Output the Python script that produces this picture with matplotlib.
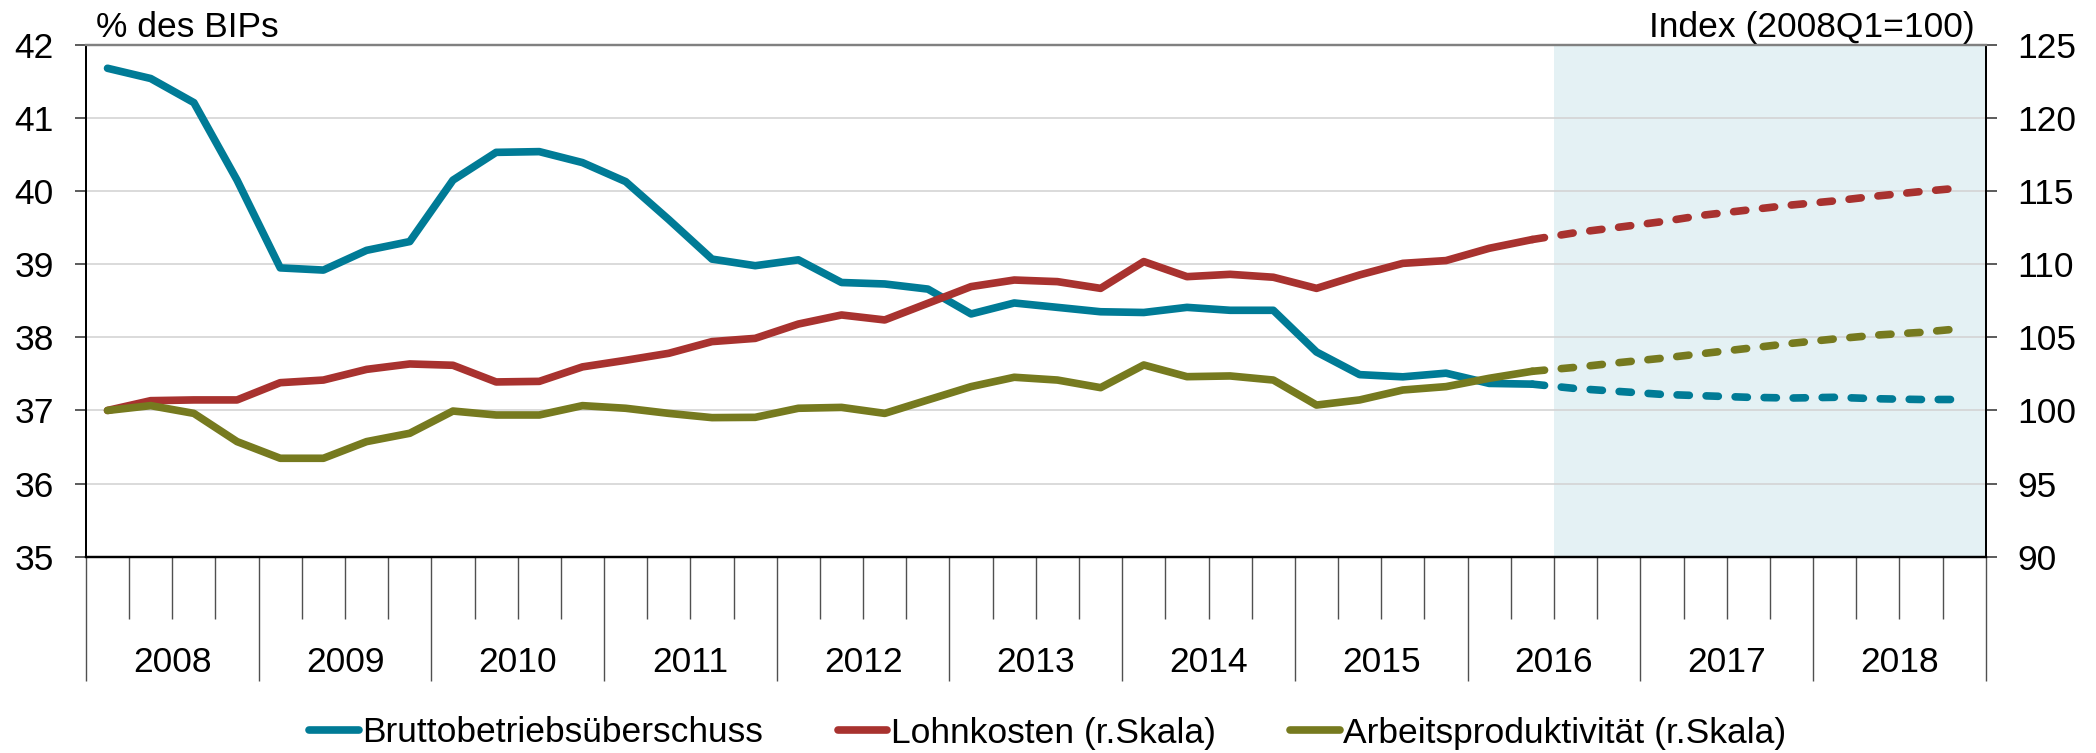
import numpy as np
import matplotlib
matplotlib.use("Agg")
import matplotlib.pyplot as plt
import matplotlib.transforms as mtransforms

plt.rcParams['font.family'] = ['Liberation Sans', 'DejaVu Sans']

# ------------------------------
# data (quarterly, 2008Q1 - 2018Q4)
# ------------------------------
years = ['2008', '2009', '2010', '2011', '2012', '2013',
         '2014', '2015', '2016', '2017', '2018']
n_forecast_start = 33   # last actual quarter index (2016Q2)

# % des BIPs (left axis)
brutto = [41.68, 41.54, 41.21, 40.15, 38.95, 38.92, 39.19, 39.31, 40.15, 40.53, 40.54, 40.39,
          40.13, 39.61, 39.07, 38.98, 39.06, 38.75, 38.73, 38.66, 38.32, 38.47, 38.41, 38.35,
          38.34, 38.41, 38.37, 38.37, 37.80, 37.49, 37.46, 37.51, 37.37, 37.36,
          37.30, 37.26, 37.22, 37.20, 37.18, 37.17, 37.18, 37.16, 37.15, 37.15]

# Index 2008Q1=100 (right axis)
lohn = [100.0, 100.67, 100.72, 100.72, 101.90, 102.08, 102.81, 103.18, 103.09, 101.95, 101.99, 102.98,
        103.43, 103.91, 104.71, 104.93, 105.91, 106.53, 106.19, 107.33, 108.47, 108.92, 108.81, 108.35,
        110.18, 109.15, 109.31, 109.11, 108.35, 109.27, 110.06, 110.25, 111.09, 111.69,
        112.16, 112.53, 112.91, 113.37, 113.71, 114.05, 114.33, 114.67, 114.97, 115.24]

produkt = [100.0, 100.33, 99.80, 97.87, 96.73, 96.73, 97.87, 98.44, 99.96, 99.69, 99.69, 100.33,
           100.15, 99.80, 99.51, 99.53, 100.15, 100.21, 99.80, 100.72, 101.63, 102.27, 102.08, 101.56,
           103.11, 102.31, 102.36, 102.08, 100.37, 100.72, 101.40, 101.63, 102.20, 102.68,
           102.95, 103.27, 103.57, 103.91, 104.25, 104.59, 104.89, 105.16, 105.34, 105.62]

labels = ['Bruttobetriebsüberschuss', 'Lohnkosten (r.Skala)', 'Arbeitsproduktivität (r.Skala)']
colors = ['#007b96', '#a8322f', '#767a1f']

x = np.arange(len(brutto))
k = n_forecast_start
fs = 25.5

# ------------------------------
# figure
# ------------------------------
fig = plt.figure(figsize=(20.96, 7.53), dpi=100)
ax = fig.add_axes([0.0410, 0.2607, 0.9064, 0.6797])
ax2 = ax.twinx()

ax.set_xlim(-0.5, len(x) - 0.5)
ax.set_ylim(35, 42)
ax2.set_ylim(90, 125)
ax.set_yticks(np.arange(35, 43, 1))
ax2.set_yticks(np.arange(90, 130, 5))

# forecast shading
ax.axvspan(k + 0.5, len(x) - 0.5, color='#e4f1f4', zorder=0.5, lw=0)
ax.grid(axis='y', color='#d4d4d4', lw=1.2)
ax.set_axisbelow(True)

lw = 5.5
dash = (0, (1.6, 2.2))
l1, = ax.plot(x[:k + 1], brutto[:k + 1], color=colors[0], lw=lw,
              solid_capstyle='round', solid_joinstyle='round', zorder=3)
ax.plot(x[k:], brutto[k:], color=colors[0], lw=lw, ls=dash,
        dash_capstyle='round', zorder=3)
l2, = ax2.plot(x[:k + 1], lohn[:k + 1], color=colors[1], lw=lw,
               solid_capstyle='round', solid_joinstyle='round')
ax2.plot(x[k:], lohn[k:], color=colors[1], lw=lw, ls=dash, dash_capstyle='round')
l3, = ax2.plot(x[:k + 1], produkt[:k + 1], color=colors[2], lw=lw,
               solid_capstyle='round', solid_joinstyle='round')
ax2.plot(x[k:], produkt[k:], color=colors[2], lw=lw, ls=dash, dash_capstyle='round')

# spines
for a in (ax, ax2):
    a.spines['top'].set_color('#808080')
    a.spines['top'].set_linewidth(1.6)
    a.spines['left'].set_linewidth(1.4)
    a.spines['right'].set_linewidth(1.4)
    a.spines['bottom'].set_linewidth(1.6)

# y ticks
ax.tick_params(axis='y', direction='out', length=8, width=1.2, pad=15,
               labelsize=fs, color='#404040')
ax2.tick_params(axis='y', direction='out', length=8, width=1.2, pad=15,
                labelsize=fs, color='#404040')

# x ticks: quarter separators and year separators
year_edges = np.arange(-0.5, len(x), 4)
quarter_edges = [q - 0.5 for q in range(len(x) + 1) if q % 4 != 0]
ax.set_xticks(year_edges)
ax.set_xticks(quarter_edges, minor=True)
ax.tick_params(axis='x', which='major', length=89, width=1.0, color='#505050',
               labelbottom=False)
ax.tick_params(axis='x', which='minor', length=44.6, width=1.0, color='#505050')
ax2.tick_params(axis='x', which='both', bottom=False, labelbottom=False)

trans = mtransforms.blended_transform_factory(ax.transData, ax.transAxes)
for i, yr in enumerate(years):
    ax.annotate(yr, xy=(i * 4 + 1.5, 0), xycoords=trans,
                xytext=(0, -76), textcoords='offset points',
                ha='center', va='center', fontsize=fs)

# axis titles
ax.annotate('% des BIPs', xy=(0, 1), xycoords='axes fraction',
            xytext=(7, 5.5), textcoords='offset points',
            ha='left', va='baseline', fontsize=fs)
ax.annotate('Index (2008Q1=100)', xy=(1, 1), xycoords='axes fraction',
            xytext=(-8, 5.5), textcoords='offset points',
            ha='right', va='baseline', fontsize=fs)

fig.legend([l1, l2, l3], labels, loc='center', bbox_to_anchor=(0.5, 1 - 733 / 753),
           ncol=3, frameon=False, fontsize=fs, handlelength=1.4,
           handletextpad=0.1, columnspacing=2.1, borderaxespad=0)

fig.savefig('out.png', dpi=100)
